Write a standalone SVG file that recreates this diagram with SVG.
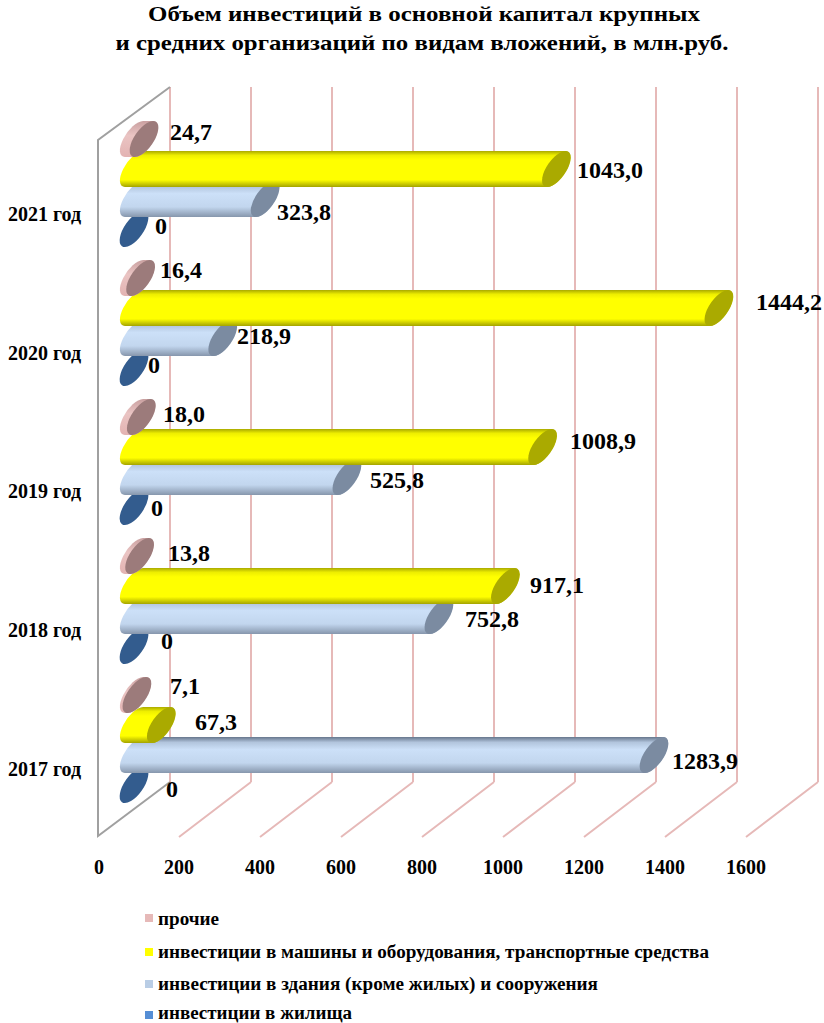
<svg xmlns="http://www.w3.org/2000/svg" xmlns:xlink="http://www.w3.org/1999/xlink" width="824" height="1023" viewBox="0 0 824 1023" font-family="'Liberation Serif', 'DejaVu Serif', serif">
<style>
text{font-family:'Liberation Serif','DejaVu Serif',serif;font-weight:bold;fill:#000}
.title{font-size:22px}
.val{font-size:24px}
.ax{font-size:20px;text-anchor:middle}
.cat{font-size:20px;text-anchor:end}
.leg{font-size:18px}
.grid{stroke:#E6B9B8;stroke-width:2;fill:none}
.wall{stroke:#A0A0A0;stroke-width:2;fill:none}
.by{fill:url(#gy)}
.bl{fill:url(#gl)}
.bp{fill:url(#gp)}
.cy{fill:#AAAA00}
.cl{fill:#7B8BA1}
.cp{fill:#9C7B7B}
.cd{fill:#335C8E}
</style>
<defs>
<linearGradient id="gy" x1="0" y1="0" x2="0" y2="1">
<stop offset="0" stop-color="#A9A900"/>
<stop offset="0.12" stop-color="#EEEE00"/>
<stop offset="0.25" stop-color="#FFFF00"/>
<stop offset="0.8" stop-color="#FFFF00"/>
<stop offset="1" stop-color="#A3A300"/>
</linearGradient>
<linearGradient id="gl" x1="0" y1="0" x2="0" y2="1">
<stop offset="0" stop-color="#66768C"/>
<stop offset="0.15" stop-color="#B2C5DD"/>
<stop offset="0.35" stop-color="#CCE0F8"/>
<stop offset="0.72" stop-color="#C2D6EE"/>
<stop offset="1" stop-color="#8696AC"/>
</linearGradient>
<linearGradient id="gp" x1="0" y1="0" x2="0" y2="1">
<stop offset="0" stop-color="#C9A0A0"/>
<stop offset="0.4" stop-color="#EAC4C3"/>
<stop offset="1" stop-color="#E3B3B2"/>
</linearGradient>
<ellipse id="cap" rx="9.5" ry="21" transform="rotate(35)"/>
</defs>
<rect width="824" height="1023" fill="#FFFFFF"/>

<g id="title">
<text class="title" x="424" y="21" text-anchor="middle" textLength="552" lengthAdjust="spacingAndGlyphs">Объем инвестиций в основной капитал крупных</text>
<text class="title" x="422" y="50" text-anchor="middle" textLength="613" lengthAdjust="spacingAndGlyphs">и средних организаций по видам вложений, в млн.руб.</text>
</g>

<g id="axes">
<path class="grid" d="M170,87V782M251,87V782M332,87V782M413,87V782M494,87V782M575,87V782M656,87V782M737,87V782M818,87V782"/>
<path class="grid" d="M179,837L251,782M260,837L332,782M341,837L413,782M422,837L494,782M503,837L575,782M584,837L656,782M665,837L737,782M746,837L818,782"/>
<path class="wall" d="M170,87L98,140V836L170,782"/>
<g id="axis-labels">
<text class="ax" x="99" y="874">0</text>
<text class="ax" x="179" y="874">200</text>
<text class="ax" x="260" y="874">400</text>
<text class="ax" x="341" y="874">600</text>
<text class="ax" x="422" y="874">800</text>
<text class="ax" x="503" y="874">1000</text>
<text class="ax" x="584" y="874">1200</text>
<text class="ax" x="665" y="874">1400</text>
<text class="ax" x="746" y="874">1600</text>
</g>
<g id="category-labels">
<text class="cat" x="81" y="221">2021 год</text>
<text class="cat" x="81" y="360">2020 год</text>
<text class="cat" x="81" y="498">2019 год</text>
<text class="cat" x="81" y="637">2018 год</text>
<text class="cat" x="81" y="776">2017 год</text>
</g>
</g>

<g id="bars-2021">
<use href="#cap" class="cd" x="134" y="229"/>
<path class="bl" d="M143.14,180.96H274.24A9.5 21 35 0 1 255.96,217.04H124.86A9.5 21 35 0 1 143.14,180.96Z"/>
<use href="#cap" class="cl" x="265.1" y="199"/>
<path class="by" d="M143.14,150.96H565.54A9.5 21 35 0 1 547.26,187.04H124.86A9.5 21 35 0 1 143.14,150.96Z"/>
<use href="#cap" class="cy" x="556.4" y="169"/>
<path class="bp" d="M143.14,120.96H153.14A9.5 21 35 0 1 134.86,157.04H124.86A9.5 21 35 0 1 143.14,120.96Z"/>
<use href="#cap" class="cp" x="144" y="139"/>
<text class="val" x="170" y="140">24,7</text>
<text class="val" x="577" y="178">1043,0</text>
<text class="val" x="277" y="220">323,8</text>
<text class="val" x="155" y="234">0</text>
</g>

<g id="bars-2020">
<use href="#cap" class="cd" x="134" y="368"/>
<path class="bl" d="M143.14,319.96H231.84A9.5 21 35 0 1 213.56,356.04H124.86A9.5 21 35 0 1 143.14,319.96Z"/>
<use href="#cap" class="cl" x="222.7" y="338"/>
<path class="by" d="M143.14,289.96H728.04A9.5 21 35 0 1 709.76,326.04H124.86A9.5 21 35 0 1 143.14,289.96Z"/>
<use href="#cap" class="cy" x="718.9" y="308"/>
<path class="bp" d="M143.14,259.96H149.74A9.5 21 35 0 1 131.46,296.04H124.86A9.5 21 35 0 1 143.14,259.96Z"/>
<use href="#cap" class="cp" x="140.6" y="278"/>
<text class="val" x="160" y="278">16,4</text>
<text class="val" x="756" y="310">1444,2</text>
<text class="val" x="237" y="344">218,9</text>
<text class="val" x="148" y="373">0</text>
</g>

<g id="bars-2019">
<use href="#cap" class="cd" x="134" y="507"/>
<path class="bl" d="M143.14,458.96H356.04A9.5 21 35 0 1 337.76,495.04H124.86A9.5 21 35 0 1 143.14,458.96Z"/>
<use href="#cap" class="cl" x="346.9" y="477"/>
<path class="by" d="M143.14,428.96H551.74A9.5 21 35 0 1 533.46,465.04H124.86A9.5 21 35 0 1 143.14,428.96Z"/>
<use href="#cap" class="cy" x="542.6" y="447"/>
<path class="bp" d="M143.14,398.96H150.44A9.5 21 35 0 1 132.16,435.04H124.86A9.5 21 35 0 1 143.14,398.96Z"/>
<use href="#cap" class="cp" x="141.3" y="417"/>
<text class="val" x="163" y="422">18,0</text>
<text class="val" x="570" y="449">1008,9</text>
<text class="val" x="370" y="488">525,8</text>
<text class="val" x="151" y="516">0</text>
</g>

<g id="bars-2018">
<use href="#cap" class="cd" x="134" y="646"/>
<path class="bl" d="M143.14,597.96H448.04A9.5 21 35 0 1 429.76,634.04H124.86A9.5 21 35 0 1 143.14,597.96Z"/>
<use href="#cap" class="cl" x="438.9" y="616"/>
<path class="by" d="M143.14,567.96H514.54A9.5 21 35 0 1 496.26,604.04H124.86A9.5 21 35 0 1 143.14,567.96Z"/>
<use href="#cap" class="cy" x="505.4" y="586"/>
<path class="bp" d="M143.14,537.96H148.74A9.5 21 35 0 1 130.46,574.04H124.86A9.5 21 35 0 1 143.14,537.96Z"/>
<use href="#cap" class="cp" x="139.6" y="556"/>
<text class="val" x="168" y="561">13,8</text>
<text class="val" x="530" y="593">917,1</text>
<text class="val" x="465" y="627">752,8</text>
<text class="val" x="161" y="649">0</text>
</g>

<g id="bars-2017">
<use href="#cap" class="cd" x="134" y="785"/>
<path class="bl" d="M143.14,736.96H663.14A9.5 21 35 0 1 644.86,773.04H124.86A9.5 21 35 0 1 143.14,736.96Z"/>
<use href="#cap" class="cl" x="654" y="755"/>
<path class="by" d="M143.14,706.96H170.44A9.5 21 35 0 1 152.16,743.04H124.86A9.5 21 35 0 1 143.14,706.96Z"/>
<use href="#cap" class="cy" x="161.3" y="725"/>
<path class="bp" d="M143.14,676.96H146.04A9.5 21 35 0 1 127.76,713.04H124.86A9.5 21 35 0 1 143.14,676.96Z"/>
<use href="#cap" class="cp" x="136.9" y="695"/>
<text class="val" x="170" y="694">7,1</text>
<text class="val" x="195" y="730">67,3</text>
<text class="val" x="672" y="769">1283,9</text>
<text class="val" x="166" y="797">0</text>
</g>

<g id="legend">
<rect x="145" y="914" width="8" height="8" fill="#E6B9B8"/>
<text class="leg" x="158" y="925" textLength="61" lengthAdjust="spacingAndGlyphs">прочие</text>
<rect x="145" y="948" width="8" height="8" fill="#FFFF00"/>
<text class="leg" x="158" y="958" textLength="551" lengthAdjust="spacingAndGlyphs">инвестиции в машины и оборудования, транспортные средства</text>
<rect x="145" y="980" width="8" height="8" fill="#B9CDE5"/>
<text class="leg" x="158" y="990" textLength="440" lengthAdjust="spacingAndGlyphs">инвестиции в здания (кроме жилых) и сооружения</text>
<rect x="145" y="1011" width="8" height="8" fill="#558ED5"/>
<text class="leg" x="158" y="1019" textLength="194" lengthAdjust="spacingAndGlyphs">инвестиции в жилища</text>
</g>
</svg>
